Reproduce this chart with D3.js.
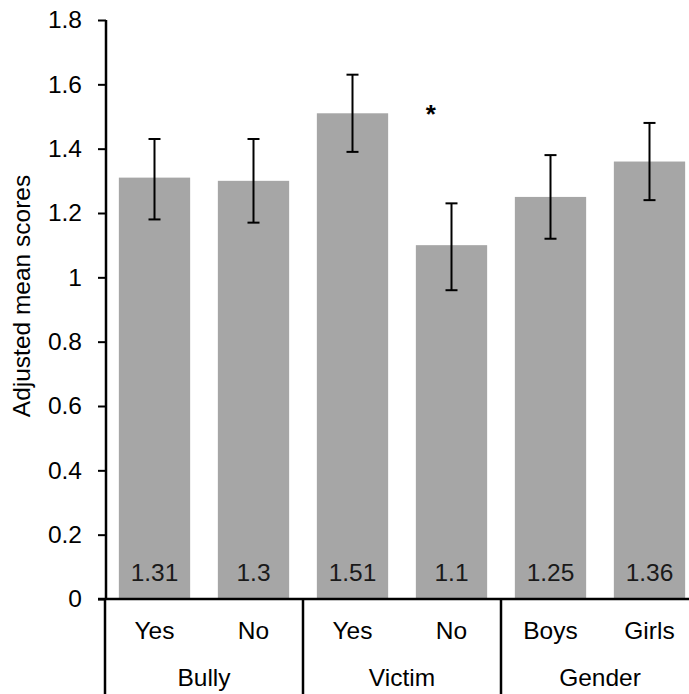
<!DOCTYPE html>
<html>
<head>
<meta charset="utf-8">
<script src="https://cdn.jsdelivr.net/npm/d3@7"></script>
<style>
  body { margin: 0; background: #fff; }
  svg { display: block; font-family: "Liberation Sans", Arial, sans-serif; }
</style>
</head>
<body>
<svg id="chart" width="689" height="694"></svg>
<script>
const groups = ["Bully", "Victim", "Gender"];
const categories = ["Yes", "No", "Yes", "No", "Boys", "Girls"];
const categoryGroups = ["Bully", "Bully", "Victim", "Victim", "Gender", "Gender"];
const means = [1.31, 1.3, 1.51, 1.1, 1.25, 1.36];
const errLow = [1.18, 1.17, 1.39, 0.96, 1.12, 1.24];
const errHigh = [1.43, 1.43, 1.63, 1.23, 1.38, 1.48];
const yTicks = [0, 0.2, 0.4, 0.6, 0.8, 1, 1.2, 1.4, 1.6, 1.8];
const significance = { index: 3, value: 1.52, label: "*" };

const width = 689;
const height = 694;
const fontSize = 24.5;
const svg = d3.select("#chart");

const keys = categories.map((c, i) => i);
const x = d3.scaleBand().domain(keys).range([105, 699]).paddingInner(0.28).paddingOuter(0.14);
const y = d3.scaleLinear().domain([0, 1.8]).range([599, 20]);

// bars
svg.append("g")
  .selectAll("rect")
  .data(keys)
  .join("rect")
  .attr("x", (i) => x(i))
  .attr("y", (i) => y(means[i]))
  .attr("width", x.bandwidth())
  .attr("height", (i) => y(0) - y(means[i]))
  .attr("fill", "#a6a6a6");

// value labels inside bars
svg.append("g")
  .selectAll("text")
  .data(keys)
  .join("text")
  .attr("x", (i) => x(i) + x.bandwidth() / 2)
  .attr("y", y(0) - 18)
  .attr("text-anchor", "middle")
  .attr("font-size", fontSize)
  .attr("fill", "#1a1a1a")
  .text((i) => means[i]);

// error bars
const err = svg.append("g").attr("stroke", "#000").attr("stroke-width", 2);
keys.forEach((i) => {
  const cx = x(i) + x.bandwidth() / 2;
  err.append("line").attr("x1", cx).attr("x2", cx).attr("y1", y(errLow[i])).attr("y2", y(errHigh[i]));
  err.append("line").attr("x1", cx - 6).attr("x2", cx + 6).attr("y1", y(errLow[i])).attr("y2", y(errLow[i]));
  err.append("line").attr("x1", cx - 6).attr("x2", cx + 6).attr("y1", y(errHigh[i])).attr("y2", y(errHigh[i]));
});

// significance marker
svg.append("text")
  .attr("x", x(significance.index) + x.bandwidth() * 0.21)
  .attr("y", y(significance.value))
  .attr("dy", "0.5em")
  .attr("text-anchor", "middle")
  .attr("font-size", 26)
  .attr("font-weight", "bold")
  .text(significance.label);

// y axis
const yAxis = svg.append("g")
  .attr("transform", "translate(106,0)")
  .call(d3.axisLeft(y).tickValues(yTicks).tickSize(8).tickPadding(16).tickFormat((d) => String(+d.toFixed(1))));
yAxis.select(".domain").attr("d", `M0,${y(1.8)}V${y(0)}`).attr("stroke", "#000").attr("stroke-width", 2.5);
yAxis.selectAll(".tick line").attr("stroke", "#000").attr("stroke-width", 2);
yAxis.selectAll(".tick text")
  .attr("font-size", fontSize)
  .attr("font-family", "Liberation Sans, Arial, sans-serif")
  .attr("fill", "#000");

// x axis line
svg.append("line")
  .attr("x1", 98).attr("x2", width)
  .attr("y1", y(0)).attr("y2", y(0))
  .attr("stroke", "#000").attr("stroke-width", 2.5);

// group dividers
const step = x.step();
const groupEdges = d3.range(groups.length + 1).map((g) => 105 + g * 2 * step);
svg.append("g")
  .selectAll("line")
  .data(groupEdges)
  .join("line")
  .attr("x1", (d) => d).attr("x2", (d) => d)
  .attr("y1", y(0)).attr("y2", height)
  .attr("stroke", "#000").attr("stroke-width", 2.5);

// category labels
svg.append("g")
  .selectAll("text")
  .data(keys)
  .join("text")
  .attr("x", (i) => x(i) + x.bandwidth() / 2)
  .attr("y", 639)
  .attr("text-anchor", "middle")
  .attr("font-size", fontSize)
  .attr("fill", "#000")
  .text((i) => categories[i]);

// group labels
svg.append("g")
  .selectAll("text")
  .data(groups)
  .join("text")
  .attr("x", (g) => {
    const idx = categoryGroups.indexOf(g);
    return (x(idx) + x(idx + 1) + x.bandwidth()) / 2;
  })
  .attr("y", 686)
  .attr("text-anchor", "middle")
  .attr("font-size", fontSize)
  .attr("fill", "#000")
  .text((g) => g);

// y axis title
svg.append("text")
  .attr("transform", "translate(30,296) rotate(-90)")
  .attr("text-anchor", "middle")
  .attr("font-size", fontSize)
  .attr("fill", "#000")
  .text("Adjusted mean scores");
</script>
</body>
</html>
